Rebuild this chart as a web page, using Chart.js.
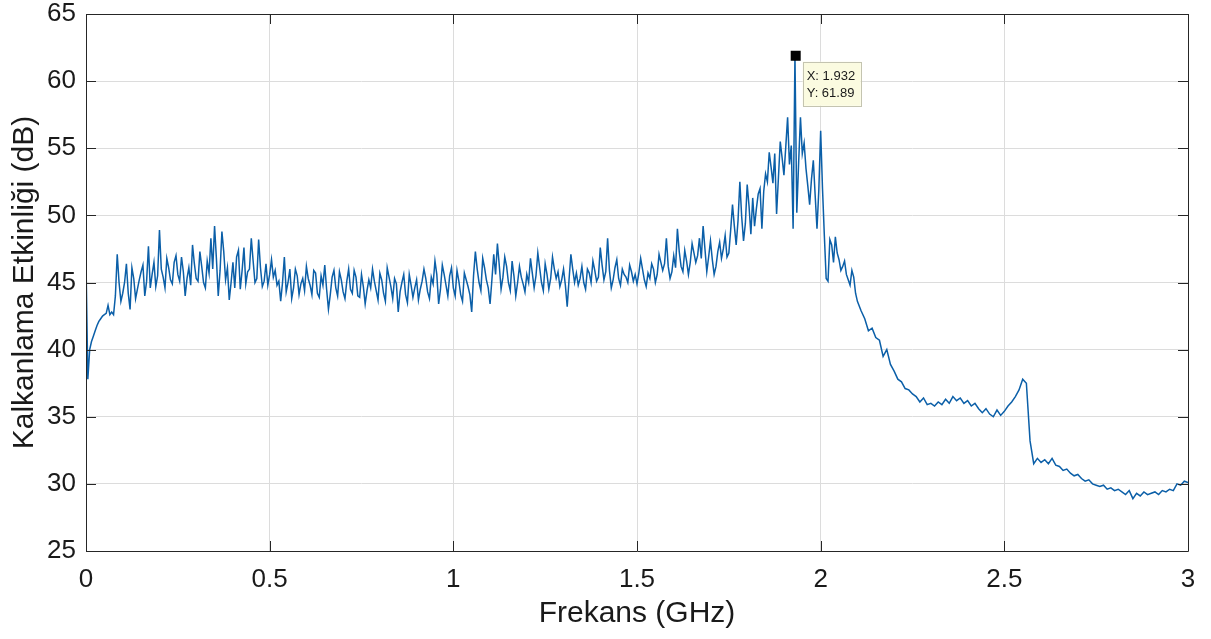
<!DOCTYPE html>
<html>
<head>
<meta charset="utf-8">
<title>Kalkanlama Etkinliği</title>
<script src="https://cdn.jsdelivr.net/npm/chart.js@4.4.1/dist/chart.umd.min.js"></script>
<style>
  body { margin: 0; background: #fff; }
  #wrap { width: 1211px; height: 639px; }
</style>
</head>
<body>
<div id="wrap"><canvas id="myChart" width="1211" height="639"></canvas></div>
<script>
// sweep in three bands (start GHz, step GHz, values dB)
let lowStart = 0, lowStep = 0.005;
let lowBand = [46.6, 37.8, 40.0, 40.6, 41.0, 41.4, 41.8, 42.1, 42.3, 42.5, 42.6,
    42.7, 43.3, 42.6, 42.8, 42.6, 44.0, 47.1, 45.0, 43.6, 44.2];

let midStart = 0.105, midStep = 0.005;
let midBand = [
    45.0, 46.4, 44.2, 43.0, 46.1, 45.3, 43.8, 44.5, 45.2, 45.8, 46.3, 44.0, 45.1, 47.7, 44.6, 45.6, 46.5, 44.7, 45.5, 48.9,  // 0.105 - 0.20
    46.0, 45.4, 44.6, 46.8, 46.1, 45.2, 44.9, 46.5, 47.0, 45.6, 45.1, 46.9, 45.8, 44.0, 45.3, 46.1, 44.8, 47.8, 46.4, 45.3,
    45.1, 47.3, 46.2, 45.0, 44.6, 46.6, 45.7, 48.3, 46.0, 49.2, 46.8, 44.0, 45.9, 48.8, 47.3, 45.2, 46.1, 43.7, 45.0, 46.5,
    44.6, 46.9, 47.4, 44.5, 45.9, 47.6, 44.9, 45.8, 46.0, 48.3, 46.6, 45.0, 45.3, 48.2, 46.1, 44.7, 45.1, 46.4, 44.8, 45.6,
    46.7, 45.4, 45.9, 44.8, 45.1, 43.6, 45.0, 46.9, 44.3, 45.0, 46.0, 43.8, 44.6, 46.0, 45.5, 44.1, 44.9, 45.3, 44.4, 46.2,  // 0.505 - 0.60
    45.3, 44.8, 44.1, 45.9, 45.7, 44.2, 43.9, 45.5, 44.8, 46.3, 44.5, 43.0, 44.1, 45.4, 45.9, 44.6, 44.0, 45.8, 45.2, 44.3,
    43.8, 45.1, 46.0, 44.5, 44.2, 45.9, 45.4, 44.0, 43.9, 45.6, 44.7, 43.4, 44.4, 45.2, 44.6, 46.0, 45.1, 44.4, 43.7, 45.7,
    45.2, 44.2, 43.6, 46.1, 45.4, 44.7, 43.8, 45.3, 44.9, 42.8, 44.3, 45.0, 45.6, 44.1, 43.5, 45.6, 44.8, 43.9, 44.6, 45.2,
    43.7, 44.5, 45.1, 46.0, 45.3, 44.3, 43.8, 45.4, 44.9, 46.6, 45.6, 43.4, 44.5, 46.3, 45.6, 44.8, 44.0, 45.5, 46.1, 44.6,
    44.0, 45.9, 45.1, 44.1, 43.6, 45.7, 45.2, 44.7, 44.1, 42.8, 45.5, 47.3, 46.0, 45.0, 44.4, 46.8, 46.1, 45.2, 44.6, 43.4,  // 1.005 - 1.10
    45.2, 47.1, 45.6, 47.9, 46.3, 44.5, 45.4, 46.9, 46.2, 45.0, 44.4, 46.6, 45.5, 44.0, 45.0, 46.2, 45.4, 44.9, 44.3, 45.6,
    45.0, 46.8, 45.7, 44.6, 45.5, 47.2, 46.1, 45.0, 44.4, 46.4, 45.6, 44.5, 45.3, 46.9, 46.0, 45.3, 45.8, 44.7, 45.2, 46.0,
    44.8, 43.2, 45.2, 47.1, 46.0, 45.0, 45.7, 44.8, 45.3, 46.2, 45.0, 44.5, 46.0, 45.7, 45.0, 46.6, 45.9, 45.1, 45.4, 47.6,
    46.3, 45.2, 45.8, 48.3, 45.9, 44.6, 45.2, 46.1, 46.7, 45.3, 44.8, 46.0, 45.6, 45.4, 45.0, 46.3, 45.8, 45.1, 45.6, 44.9,
    45.7, 46.8, 46.0, 45.2, 44.7, 45.7, 45.3, 46.4, 46.0, 45.0, 45.6, 47.1, 46.5, 45.9, 46.4, 48.3, 46.2, 45.3, 45.8, 47.0,  // 1.505 - 1.60
    46.1, 49.0, 47.3, 46.2, 45.8, 47.4, 46.6, 45.6, 46.5, 47.9, 47.2, 46.5, 47.0, 48.3, 46.8, 49.2, 47.5, 45.8, 46.9, 48.1,
    46.7, 45.6, 46.2, 47.3, 48.0, 46.8, 47.5, 48.5, 46.9, 47.2, 48.9, 50.8, 49.2, 47.8, 49.6, 52.5, 49.9, 48.1, 49.4, 52.3,
    50.7, 48.6, 51.3, 49.2, 50.5, 51.6, 52.0, 49.0, 51.8, 53.1, 52.5, 54.7, 53.6, 52.4, 54.6, 50.1, 52.8, 55.5, 54.3, 53.0,
    55.1, 57.3, 53.8, 55.2, 49.0, 61.89, 50.2, 53.9, 57.3, 54.6, 55.4, 53.5, 52.2, 50.8, 52.7, 54.1, 51.5, 49.0, 51.9, 56.3,
    52.0, 48.5, 45.3, 45.1, 48.2, 47.8, 46.5, 48.4, 47.2, 46.7, 45.9, 46.2, 46.6, 45.6, 45.2, 44.8, 45.9, 45.4, 44.2, 43.6   // 2.005 - 2.10
];

let tailStart = 2.11, tailStep = 0.01;
let tailBand = [
    42.9, 42.3, 41.4, 41.6, 40.9, 40.7, 39.5, 40.0, 38.9, 38.4,   // 2.11 - 2.20
    37.8, 37.6, 37.1, 37.0, 36.7, 36.5, 36.1, 36.4, 35.9, 36.0,
    35.8, 36.1, 35.9, 36.3, 36.0, 36.5, 36.2, 36.4, 36.0, 36.2,
    35.8, 36.0, 35.6, 35.3, 35.6, 35.2, 35.0, 35.5, 35.1, 35.4,
    35.8, 36.1, 36.5, 37.0, 37.8, 37.5, 33.2, 31.5, 31.9, 31.6,   // 2.51 - 2.60
    31.8, 31.5, 31.9, 31.4, 31.3, 31.0, 31.1, 30.8, 30.6, 30.7,
    30.4, 30.2, 30.3, 30.0, 29.9, 29.8, 29.9, 29.6, 29.7, 29.5,
    29.6, 29.4, 29.2, 29.5, 28.9, 29.3, 29.1, 29.4, 29.2, 29.3,
    29.4, 29.2, 29.5, 29.4, 29.6, 29.5, 30.0, 29.9, 30.2, 30.1
];

// data tip shown on the figure
let tipX = 1.932;
let tipY = 61.89;

let xTicks = [0, 0.5, 1, 1.5, 2, 2.5, 3];
let yTicks = [25, 30, 35, 40, 45, 50, 55, 60, 65];

let points = [];
function addBand(start, step, values) {
    values.forEach((v, i) => {
        points.push({x: Math.round((start + i * step) * 1000) / 1000, y: v});
    });
}
addBand(lowStart, lowStep, lowBand);
addBand(midStart, midStep, midBand);
addBand(tailStart, tailStep, tailBand);

let axisColor = '#262626';
let tickLen = 10;

// matlab style box with inward ticks + the data tip
let boxPlugin = {
    id: 'boxPlugin',
    afterDatasetsDraw(chart) {
        let ctx = chart.ctx;
        let a = chart.chartArea;
        let sx = chart.scales.x, sy = chart.scales.y;
        ctx.save();
        ctx.strokeStyle = axisColor;
        ctx.lineWidth = 1;
        ctx.beginPath();
        ctx.rect(Math.round(a.left) + 0.5, Math.round(a.top) + 0.5,
            Math.round(a.right - a.left), Math.round(a.bottom - a.top));
        xTicks.forEach(t => {
            let px = Math.round(sx.getPixelForValue(t)) + 0.5;
            ctx.moveTo(px, a.bottom); ctx.lineTo(px, a.bottom - tickLen);
            ctx.moveTo(px, a.top); ctx.lineTo(px, a.top + tickLen);
        });
        yTicks.forEach(t => {
            let py = Math.round(sy.getPixelForValue(t)) + 0.5;
            ctx.moveTo(a.left, py); ctx.lineTo(a.left + tickLen, py);
            ctx.moveTo(a.right, py); ctx.lineTo(a.right - tickLen, py);
        });
        ctx.stroke();

        // data tip marker
        let mx = sx.getPixelForValue(tipX);
        let my = sy.getPixelForValue(tipY);
        ctx.fillStyle = '#000';
        ctx.fillRect(mx - 5, my - 5, 10, 10);

        let bx = mx + 7, by = my + 6, bw = 58, bh = 44;
        ctx.fillStyle = '#fbfbe0';
        ctx.strokeStyle = '#c4c4b0';
        ctx.fillRect(bx, by, bw, bh);
        ctx.strokeRect(Math.round(bx) + 0.5, Math.round(by) + 0.5, bw, bh);
        ctx.fillStyle = '#1a1a1a';
        ctx.font = '13px "Liberation Sans", Arial, sans-serif';
        ctx.textAlign = 'left';
        ctx.textBaseline = 'middle';
        ctx.fillText('X: ' + tipX, bx + 4, by + 15);
        ctx.fillText('Y: ' + tipY, bx + 4, by + 32);
        ctx.restore();
    }
};

let tickFont = {family: '"Liberation Sans", Arial, sans-serif', size: 26, lineHeight: 1};
let titleFont = {family: '"Liberation Sans", Arial, sans-serif', size: 30, lineHeight: 1.2};

let chart = new Chart("myChart", {
    type: 'line',
    data: {
        datasets: [{
            data: points,
            borderColor: '#0b5fa8',
            borderWidth: 1.5,
            pointRadius: 0,
            tension: 0,
            fill: false
        }]
    },
    options: {
        responsive: false,
        animation: false,
        events: [],
        layout: {padding: {left: 0, top: 14, right: 23, bottom: 0}},
        plugins: {
            legend: {display: false},
            tooltip: {enabled: false},
            title: {display: false}
        },
        scales: {
            x: {
                type: 'linear',
                min: 0,
                max: 3,
                afterFit: s => { s.height = 88; },
                afterBuildTicks: s => { s.ticks = xTicks.map(v => ({value: v})); },
                // tick marks are hidden, their length only spaces the labels
                grid: {color: '#dcdcdc', lineWidth: 1, drawTicks: true, tickLength: 16, tickColor: 'rgba(0,0,0,0)'},
                border: {display: false},
                ticks: {
                    font: tickFont,
                    color: '#1a1a1a',
                    padding: 0,
                    maxRotation: 0,
                    callback: v => String(v)
                },
                title: {
                    display: true,
                    text: 'Frekans (GHz)',
                    font: titleFont,
                    color: '#1a1a1a',
                    padding: {top: 0, bottom: 7}
                }
            },
            y: {
                min: 25,
                max: 65,
                afterFit: s => { s.width = 86; },
                afterBuildTicks: s => { s.ticks = yTicks.map(v => ({value: v})); },
                grid: {color: '#dcdcdc', lineWidth: 1, drawTicks: true, tickLength: 10, tickColor: 'rgba(0,0,0,0)'},
                border: {display: false},
                ticks: {
                    font: tickFont,
                    color: '#1a1a1a',
                    padding: 0,
                    callback: v => String(v)
                },
                title: {
                    display: true,
                    text: 'Kalkanlama Etkinliği (dB)',
                    font: titleFont,
                    color: '#1a1a1a',
                    padding: {top: 7, bottom: 0}
                }
            }
        }
    },
    plugins: [boxPlugin]
});
</script>
</body>
</html>
